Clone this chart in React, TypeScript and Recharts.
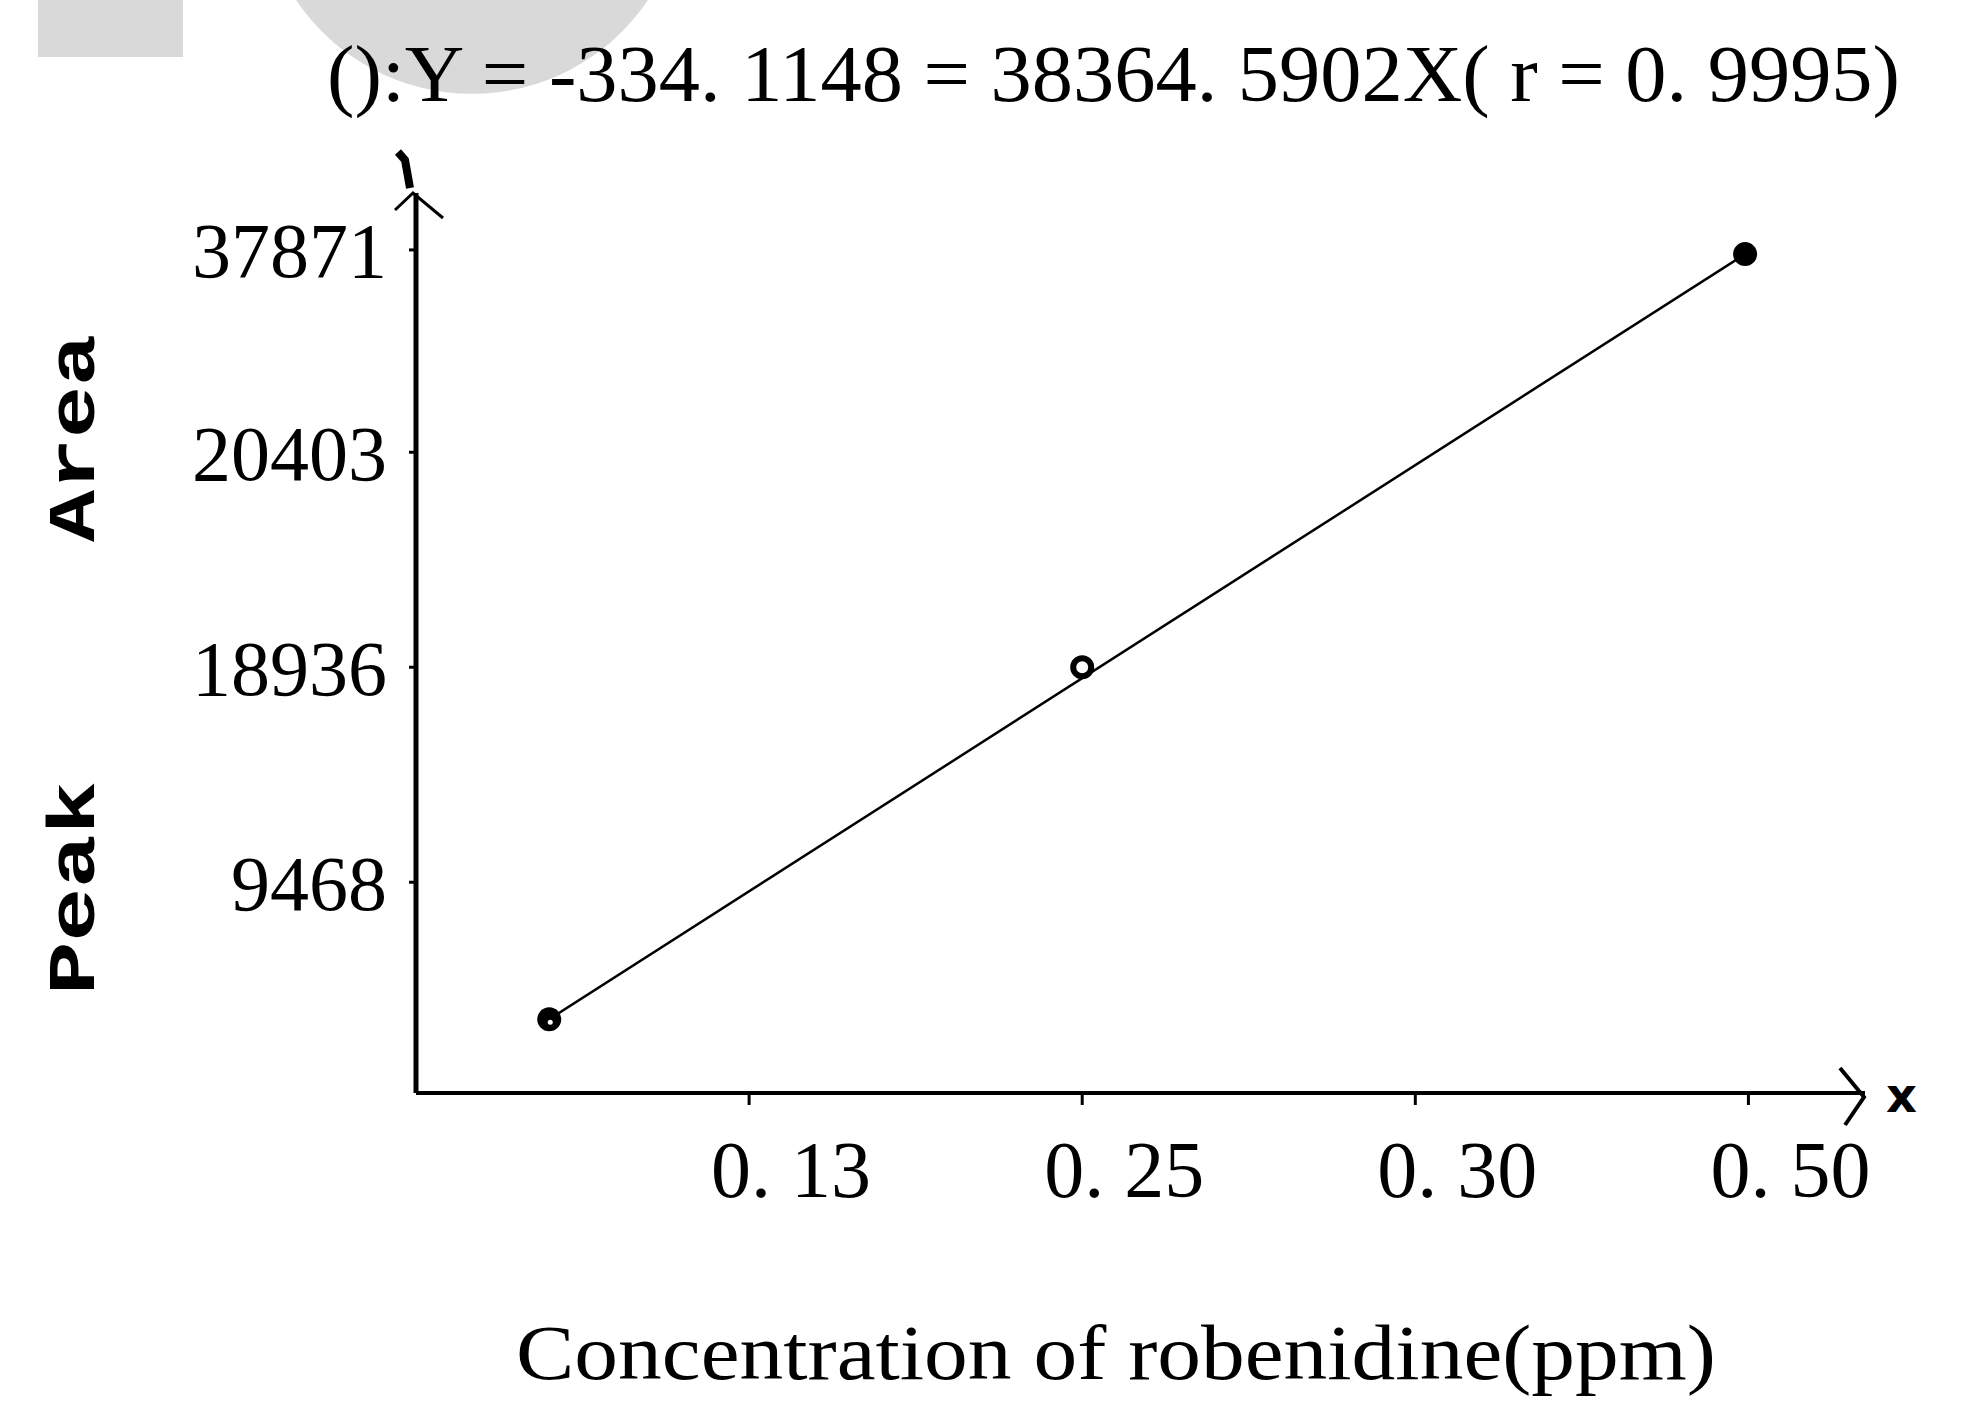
import React from "react";
import { ComposedChart, Line, Scatter, XAxis, YAxis } from "recharts";

// axis slots: the original plot spaces its ticks evenly, not by value
const xTickSlots = [1, 2, 3, 4];
const xTickLabels = ["0. 13", "0. 25", "0. 30", "0. 50"];
const yTickSlots = [1, 2.02, 3.04, 4];
const yTickLabels = ["9468", "18936", "20403", "37871"];

// measured points, in slot units
const pointX = [0.4, 2.0, 3.99];
const pointY = [0.35, 2.02, 3.98];

const points = pointX.map((x, i) => ({ x, y: pointY[i] }));
// regression line drawn between first and last calibration point
const fitLine = [points[0], points[points.length - 1]];

const title = "():Y = -334. 1148 = 38364. 5902X( r = 0. 9995)";
const xTitle = "Concentration of robenidine(ppm)";

const serif = "'Liberation Serif', 'DejaVu Serif', serif";

const XTick = (props: any) => {
  const { x, y, payload } = props;
  const i = xTickSlots.indexOf(payload.value);
  return (
    <text x={x - 38} y={y} dy={92} fontFamily={serif} fontSize={80} fill="#000">
      {xTickLabels[i]}
    </text>
  );
};

const YTick = (props: any) => {
  const { x, y, payload } = props;
  const i = yTickSlots.indexOf(payload.value);
  return (
    <text x={x} y={y} dy="0.35em" textAnchor="end" fontFamily={serif} fontSize={78} fill="#000">
      {yTickLabels[i]}
    </text>
  );
};

const Marker = (props: any) => {
  const { cx, cy, payload } = props;
  const i = points.findIndex((p) => p.x === payload?.x);
  if (i === 1) {
    return <circle cx={cx} cy={cy} r={9} fill="#fff" stroke="#000" strokeWidth={6} />;
  }
  return (
    <g>
      <circle cx={cx} cy={cy} r={12} fill="#000" />
      {i === 0 && <circle cx={cx + 1} cy={cy + 3} r={2.5} fill="#fff" />}
    </g>
  );
};

export default function App() {
  return (
    <div style={{ position: "absolute", left: 0, top: 0, width: 1975, height: 1411, background: "#fff" }}>
      <ComposedChart width={1975} height={1411} margin={{ top: 193, right: 110, left: 316, bottom: 218 }}>
        <XAxis
          type="number"
          dataKey="x"
          domain={[0, 4.35]}
          ticks={xTickSlots}
          allowDataOverflow
          height={100}
          tickSize={12}
          tickMargin={0}
          axisLine={{ stroke: "#000", strokeWidth: 4 }}
          tickLine={{ stroke: "#000", strokeWidth: 3 }}
          tick={<XTick />}
        />
        <YAxis
          type="number"
          dataKey="y"
          domain={[0, 4.27]}
          ticks={yTickSlots}
          allowDataOverflow
          width={100}
          tickSize={7}
          tickMargin={22}
          axisLine={{ stroke: "#000", strokeWidth: 5 }}
          tickLine={{ stroke: "#000", strokeWidth: 3 }}
          tick={<YTick />}
        />
        <Line
          data={fitLine}
          dataKey="y"
          type="linear"
          stroke="#000"
          strokeWidth={2.5}
          dot={false}
          activeDot={false}
          isAnimationActive={false}
        />
        <Scatter data={points} dataKey="y" shape={<Marker />} isAnimationActive={false} />
      </ComposedChart>

      <svg
        width={1975}
        height={1411}
        style={{ position: "absolute", left: 0, top: 0, pointerEvents: "none" }}
      >
        {/* scan watermark */}
        <rect x={38} y={0} width={145} height={57} fill="#d9d9d9" />
        <path d="M 296 0 A 212 212 0 0 0 648 0 Z" fill="#d9d9d9" />

        <text x={327} y={101} fontFamily={serif} fontSize={80} textLength={1573} lengthAdjust="spacingAndGlyphs" fill="#000">
          {title}
        </text>

        {/* arrow heads */}
        <polyline points="395,210 413,193 443,218" fill="none" stroke="#000" strokeWidth={3} />
        <path d="M 398 152 L 405 160 L 410 188" fill="none" stroke="#000" strokeWidth={8} />
        <polyline points="1840,1068 1864,1097 1845,1125" fill="none" stroke="#000" strokeWidth={4} />
        <text x={1886} y={1112} fontFamily="'DejaVu Sans', sans-serif" fontWeight="bold" fontSize={48} fill="#000">
          x
        </text>

        {/* y axis title */}
        <text
          x={94}
          y={438}
          transform="rotate(-90 94 438)"
          textAnchor="middle"
          fontFamily="'Liberation Mono', 'DejaVu Sans Mono', monospace"
          fontWeight="bold"
          fontSize={66}
          textLength={208}
          lengthAdjust="spacingAndGlyphs"
          fill="#000"
        >
          Area
        </text>
        <text
          x={94}
          y={888}
          transform="rotate(-90 94 888)"
          textAnchor="middle"
          fontFamily="'Liberation Mono', 'DejaVu Sans Mono', monospace"
          fontWeight="bold"
          fontSize={66}
          textLength={214}
          lengthAdjust="spacingAndGlyphs"
          fill="#000"
        >
          Peak
        </text>

        <text x={516} y={1379} fontFamily={serif} fontSize={78} textLength={1200} lengthAdjust="spacingAndGlyphs" fill="#000">
          {xTitle}
        </text>
      </svg>
    </div>
  );
}
